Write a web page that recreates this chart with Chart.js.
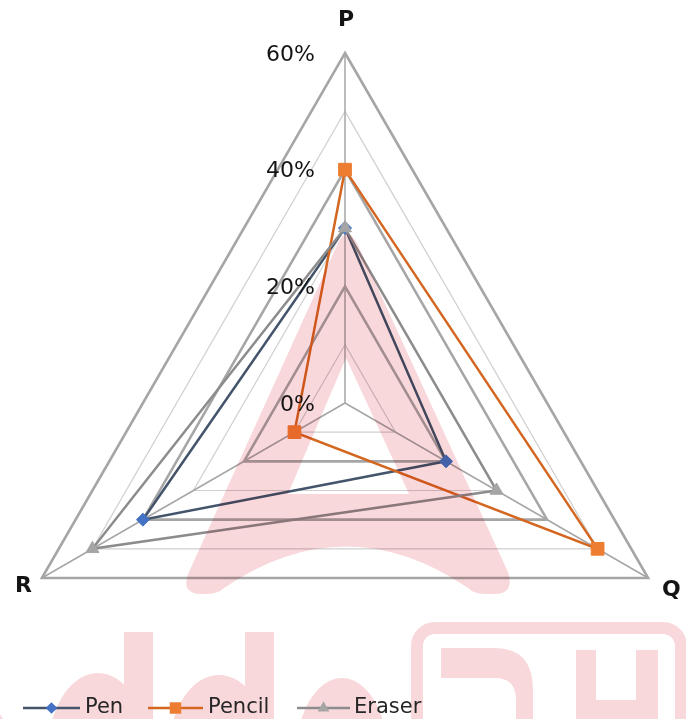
<!DOCTYPE html>
<html><head><meta charset="utf-8">
<script src="https://cdn.jsdelivr.net/npm/chart.js@4/dist/chart.umd.min.js"></script>
<style>
html,body{margin:0;padding:0;background:#fff;overflow:hidden;width:686px;height:719px;}
#wrap{position:absolute;left:-5px;top:0;width:700px;height:753px;}
</style></head><body>
<div id="wrap"><canvas id="c" width="700" height="753"></canvas></div>
<script>
const categories = ['P', 'Q', 'R'];
const seriesNames = ['Pen', 'Pencil', 'Eraser'];
const penValues = [30, 20, 40];
const pencilValues = [40, 50, 10];
const eraserValues = [30, 30, 50];
const tickValues = [0, 20, 40, 60];
const tickLabels = ['0%', '20%', '40%', '60%'];

const lineColors = ['#44546A', '#D4661F', '#8C8C8C'];
const markerColors = ['#4472C4', '#ED7D31', '#A5A5A5'];
const markerStyles = ['rectRot', 'rect', 'triangle'];
const markerRadii = [6.5, 9, 7.5];

function drawMarker(ctx, style, x, y, r, color) {
  ctx.save();
  ctx.fillStyle = color;
  ctx.beginPath();
  if (style === 'rectRot') {
    ctx.moveTo(x - r, y); ctx.lineTo(x, y - r); ctx.lineTo(x + r, y); ctx.lineTo(x, y + r);
  } else if (style === 'rect') {
    const s = r * Math.SQRT1_2;
    ctx.rect(x - s, y - s, 2 * s, 2 * s);
  } else {
    ctx.moveTo(x, y - r);
    ctx.lineTo(x + r * Math.sin(2 * Math.PI / 3), y - r * Math.cos(2 * Math.PI / 3));
    ctx.lineTo(x - r * Math.sin(2 * Math.PI / 3), y - r * Math.cos(2 * Math.PI / 3));
  }
  ctx.closePath();
  ctx.fill();
  ctx.restore();
}

function halfEllipse(ctx, cx, cy, rx, ry) {
  ctx.moveTo(cx - rx, cy);
  ctx.ellipse(cx, cy, rx, ry, 0, Math.PI, 2 * Math.PI);
  ctx.closePath();
}

const watermark = {
  id: 'watermark',
  afterDatasetsDraw(chart) {
    const ctx = chart.ctx;
    ctx.save();
    ctx.translate(5, 0);
    ctx.globalCompositeOperation = 'multiply';
    ctx.fillStyle = '#F9D8DC';
    ctx.strokeStyle = '#F9D8DC';
    // stylised "A"
    ctx.beginPath();
    ctx.moveTo(338, 243);
    ctx.quadraticCurveTo(347, 225, 357, 243);
    ctx.lineTo(508, 572);
    ctx.quadraticCurveTo(515, 594, 494, 594);
    ctx.lineTo(486, 594);
    ctx.quadraticCurveTo(474, 594, 468, 588);
    ctx.quadraticCurveTo(346, 505, 224, 588);
    ctx.quadraticCurveTo(218, 594, 206, 594);
    ctx.lineTo(200, 594);
    ctx.quadraticCurveTo(180, 593, 189, 572);
    ctx.closePath();
    ctx.moveTo(346, 358);
    ctx.lineTo(409, 494);
    ctx.lineTo(288, 494);
    ctx.closePath();
    ctx.fill('evenodd');
    // letters (one nonzero path so overlaps do not darken)
    ctx.beginPath();
    ctx.rect(124, 632, 29, 100);
    ctx.rect(245, 632, 29, 100);
    halfEllipse(ctx, 98, 752, 50, 79);
    halfEllipse(ctx, 219, 752, 50, 77);
    halfEllipse(ctx, 342, 756, 46, 78);
    halfEllipse(ctx, -30, 762, 44, 65);
    ctx.moveTo(441, 648);
    ctx.lineTo(495, 648);
    ctx.quadraticCurveTo(533, 648, 533, 690);
    ctx.lineTo(533, 725);
    ctx.lineTo(516, 725);
    ctx.lineTo(516, 700);
    ctx.quadraticCurveTo(516, 678, 495, 678);
    ctx.lineTo(441, 678);
    ctx.closePath();
    ctx.rect(576, 650, 20, 75);
    ctx.rect(596, 700, 40, 25);
    ctx.rect(636, 650, 22, 75);
    ctx.fill('nonzero');
    // rounded box
    ctx.lineWidth = 12;
    ctx.beginPath();
    ctx.roundRect(417, 628, 264, 200, 18);
    ctx.stroke();
    ctx.restore();
  }
};

const labelsPlugin = {
  id: 'labelsPlugin',
  afterDraw(chart) {
    const ctx = chart.ctx;
    const s = chart.scales.r;
    ctx.save();
    ctx.fillStyle = '#141414';
    ctx.textBaseline = 'middle';
    ctx.font = '22px "DejaVu Sans"';
    ctx.textAlign = 'right';
    tickValues.forEach((v, i) => {
      const p = s.getPointPositionForValue(0, v);
      ctx.fillText(tickLabels[i], p.x - 30, p.y + 2);
    });
    ctx.font = 'bold 22px "DejaVu Sans"';
    categories.forEach((c, i) => {
      const p = s.getPointPosition(i, s.drawingArea);
      if (i === 0) { ctx.textAlign = 'center'; ctx.fillText(c, p.x + 1, p.y - 33); }
      else if (p.x > s.xCenter) { ctx.textAlign = 'left'; ctx.fillText(c, p.x + 14, p.y + 12); }
      else { ctx.textAlign = 'right'; ctx.fillText(c, p.x - 10, p.y + 8); }
    });
    // legend
    ctx.translate(5, 0);
    const items = [
      {x1: 23, x2: 80, tx: 85},
      {x1: 148, x2: 203, tx: 208},
      {x1: 297, x2: 350, tx: 354}
    ];
    const ly = 708;
    ctx.font = '21px "DejaVu Sans"';
    ctx.textAlign = 'left';
    seriesNames.forEach((name, i) => {
      const it = items[i];
      ctx.strokeStyle = lineColors[i];
      ctx.lineWidth = 2.5;
      ctx.beginPath();
      ctx.moveTo(it.x1, ly); ctx.lineTo(it.x2, ly);
      ctx.stroke();
      drawMarker(ctx, markerStyles[i], (it.x1 + it.x2) / 2, ly, markerRadii[i] * 0.9, markerColors[i]);
      ctx.fillStyle = '#262626';
      ctx.fillText(name, it.tx, ly);
    });
    ctx.restore();
  }
};

const seriesValues = [penValues, pencilValues, eraserValues];
const datasets = seriesNames.map((name, i) => ({
  label: name,
  data: seriesValues[i],
  borderColor: lineColors[i],
  backgroundColor: markerColors[i],
  pointBackgroundColor: markerColors[i],
  pointBorderColor: markerColors[i],
  pointBorderWidth: 1,
  pointStyle: markerStyles[i],
  pointRadius: markerRadii[i],
  borderWidth: 2.5,
  fill: false,
  order: 3 - i
}));

new Chart(document.getElementById('c'), {
  type: 'radar',
  data: { labels: categories, datasets },
  options: {
    responsive: false,
    animation: false,
    layout: { padding: { top: 53, left: 0, right: 0, bottom: 0 } },
    plugins: { legend: { display: false }, tooltip: { enabled: false } },
    elements: { line: { tension: 0 } },
    scales: {
      r: {
        min: 0,
        max: 60,
        ticks: { display: false, stepSize: 10 },
        pointLabels: { display: false },
        angleLines: { color: '#a6a6a6', lineWidth: 1.5 },
        grid: {
          color: (c) => (c.tick && c.tick.value % 20 === 0) ? '#a6a6a6' : '#d0d0d0',
          lineWidth: (c) => (c.tick && c.tick.value % 20 === 0) ? 2.6 : 1.2
        }
      }
    }
  },
  plugins: [watermark, labelsPlugin]
});
</script>
</body></html>
